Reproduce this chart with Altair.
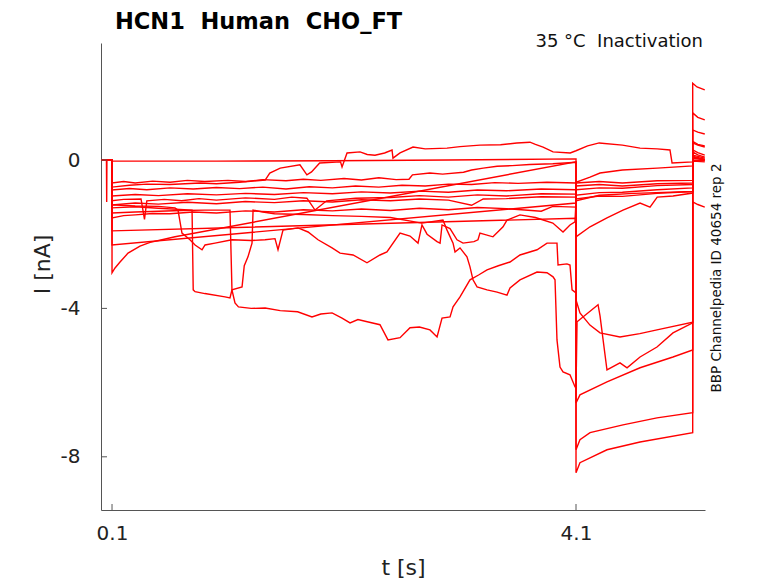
import altair as alt
import pandas as pd

# ---- data: (t [s], I [nA]) keypoints, one list per sweep ----
HOLD = [(0.005, 0.0), (0.1, 0.0)]

flat = [(0.052, 0.0), (0.054, -1.13), (0.056, 0.0), (0.1, 0.0), (0.1, -0.03), (1.0, -0.03), (2.0, -0.02),
        (3.0, 0.0), (4.1, 0.03), (4.1, -8.43), (4.134, -8.16), (4.367, -7.81), (4.652, -7.6),
        (5.106, -7.35), (5.106, 2.07), (5.143, 1.97), (5.21, 1.89)]

lin3 = [(0.1, -3.04), (0.126, -2.91), (0.169, -2.75), (0.238, -2.51), (0.341, -2.32), (0.428, -2.22),
        (0.531, -2.15), (0.643, -2.07), (4.1, -0.05), (4.1, -7.81), (4.134, -7.54), (4.221, -7.35),
        (4.505, -7.14), (4.798, -6.95), (5.106, -6.81), (5.106, 1.27), (5.15, 1.15), (5.21, 1.08)]

band1 = [(0.1, -0.62), (0.2, -0.58), (0.3, -0.62), (0.45, -0.57), (0.6, -0.6), (0.75, -0.55), (0.9, -0.58),
         (1.1, -0.55), (1.25, -0.58), (1.4, -0.53), (1.6, -0.56), (1.75, -0.52), (1.9, -0.55), (2.1, -0.5),
         (2.25, -0.54), (2.4, -0.48), (2.55, -0.53), (2.66, -0.52), (2.69, -0.40), (2.84, -0.35),
         (2.95, -0.38), (3.13, -0.33), (3.2, -0.27), (3.3, -0.22), (3.42, -0.17), (3.55, -0.15),
         (3.7, -0.12), (3.9, -0.1), (4.1, -0.06), (4.1, -6.55), (4.134, -6.33),
         (4.367, -5.98), (4.652, -5.6), (4.936, -5.31), (5.106, -5.12), (5.106, 0.81), (5.15, 0.75),
         (5.21, 0.7)]

top = [(0.1, -0.73), (0.25, -0.68), (0.4, -0.65), (0.6, -0.66), (0.86, -0.62), (1.0, -0.64), (1.2, -0.6),
       (1.42, -0.54), (1.46, -0.35), (1.55, -0.22), (1.72, -0.13), (1.78, -0.40), (1.82, -0.32),
       (1.89, -0.08), (2.07, -0.05), (2.083, -0.19), (2.126, 0.19), (2.238, 0.22), (2.3, 0.15),
       (2.367, 0.13), (2.45, 0.19), (2.514, 0.27), (2.522, 0.05), (2.583, 0.19), (2.695, 0.35),
       (2.8, 0.3), (2.988, 0.32), (3.1, 0.36), (3.272, 0.40), (3.45, 0.41), (3.59, 0.46), (3.703, 0.48),
       (3.75, 0.42), (3.816, 0.35), (3.902, 0.22), (4.05, 0.19), (4.1, 0.25), (4.2, 0.38), (4.3, 0.46),
       (4.5, 0.40), (4.652, 0.32), (4.8, 0.3), (4.91, 0.27), (4.928, -0.08), (5.106, -0.05),
       (5.106, 0.27), (5.15, 0.2), (5.21, 0.13)]

drop_p = [(0.1, -1.43), (0.3, -1.4), (0.5, -1.38), (0.7, -1.36), (0.9, -1.35), (1.117, -1.35), (1.134, -3.5),
          (1.16, -3.85), (1.19, -3.96), (1.3, -4.0), (1.42, -3.99), (1.55, -4.06), (1.70, -4.09),
          (1.824, -4.23), (1.9, -4.15), (1.997, -4.12), (2.083, -4.26), (2.152, -4.39), (2.22, -4.3),
          (2.3, -4.36), (2.41, -4.44), (2.479, -4.85), (2.583, -4.79), (2.669, -4.52), (2.75, -4.5),
          (2.841, -4.58), (2.902, -4.77), (2.945, -4.26), (3.014, -4.23), (3.04, -3.96), (3.1, -3.69),
          (3.186, -3.23), (3.26, -3.1), (3.333, -2.96), (3.43, -2.85), (3.531, -2.75), (3.617, -2.56),
          (3.764, -2.42), (3.85, -2.24), (3.936, -2.24), (3.945, -2.83), (4.022, -2.80), (4.048, -2.83),
          (4.066, -3.5), (4.1, -3.58), (4.1, -3.77), (4.134, -4.12), (4.22, -4.45), (4.307, -4.66),
          (4.479, -4.77), (4.65, -4.68), (4.798, -4.58), (5.106, -4.37),
          (5.106, -1.13), (5.15, -1.2), (5.21, -1.27)]

drop_q = [(0.1, -1.29), (0.3, -1.26), (0.5, -1.3), (0.79, -1.35), (0.80, -3.5), (0.816, -3.55), (0.9, -3.6),
          (1.074, -3.69), (1.117, -3.72), (1.134, -3.5), (1.221, -3.42), (1.24, -2.85), (1.272, -2.61),
          (1.307, -2.24), (1.316, -1.35), (1.4, -1.4), (1.5, -1.45), (1.75, -1.47), (2.0, -1.5),
          (2.25, -1.52), (2.5, -1.55), (2.77, -1.7), (2.953, -1.62), (2.988, -1.89), (3.04, -2.24),
          (3.057, -2.48), (3.1, -2.37), (3.16, -2.61), (3.186, -2.88), (3.212, -3.23), (3.247, -3.42),
          (3.333, -3.5), (3.42, -3.56), (3.505, -3.64), (3.531, -3.45), (3.617, -3.23), (3.764, -3.02),
          (3.85, -3.04), (3.902, -3.15), (3.919, -3.23), (3.936, -4.85), (3.962, -5.58), (3.988, -5.71),
          (4.048, -5.79), (4.091, -6.11), (4.1, -6.15), (4.109, -4.36), (4.29, -3.9), (4.307, -4.2),
          (4.367, -5.66), (4.479, -5.47), (4.54, -5.6), (4.652, -5.31), (4.798, -5.04), (4.936, -4.66),
          (5.106, -4.39), (5.106, 0.46), (5.15, 0.4), (5.21, 0.35)]

drop_r = [(0.1, -1.21), (0.3, -1.24), (0.5, -1.25), (0.643, -1.29), (0.669, -1.35), (0.703, -1.97),
          (0.772, -2.15), (0.816, -2.29), (0.876, -2.42), (0.902, -2.29), (0.988, -2.24), (1.134, -2.15),
          (1.3, -2.17), (1.419, -2.15), (1.505, -2.12), (1.531, -2.42), (1.574, -1.89), (1.703, -1.83),
          (1.79, -1.94), (1.876, -2.15), (1.997, -2.37), (2.066, -2.51), (2.178, -2.56), (2.298, -2.77),
          (2.41, -2.56), (2.47, -2.48), (2.583, -1.97), (2.669, -2.05), (2.738, -2.24), (2.772, -1.75),
          (2.816, -2.0), (2.902, -2.2), (2.928, -2.24), (2.945, -1.75), (3.014, -1.85), (3.074, -2.15),
          (3.126, -2.24), (3.22, -2.2), (3.255, -2.15), (3.272, -1.97), (3.384, -2.07), (3.471, -1.8),
          (3.505, -1.62), (3.617, -1.48), (3.75, -1.55), (3.9, -1.70), (3.988, -1.94), (4.048, -1.75),
          (4.091, -1.67), (4.1, -1.1), (4.3, -0.95), (4.6, -0.9), (5.106, -0.85), (5.106, 0.22),
          (5.15, 0.14), (5.21, 0.08)]

lin1 = [(0.1, -1.91), (4.1, -1.57), (4.1, -2.07), (4.221, -1.8), (4.367, -1.56), (4.505, -1.35),
        (4.652, -1.16), (4.738, -1.27), (4.8, -1.0), (4.936, -0.97), (5.106, -0.89), (5.106, 0.08),
        (5.21, 0.0)]

lin2 = [(0.1, -2.29), (4.1, -1.16), (4.1, -0.6), (4.221, -0.46), (4.307, -0.35), (4.5, -0.27),
        (4.8, -0.22), (5.106, -0.16), (5.106, 0.5), (5.15, 0.42), (5.21, 0.38)]

band2 = [(0.1, -0.81), (0.25, -0.77), (0.4, -0.8), (0.6, -0.75), (0.8, -0.78), (1.0, -0.74), (1.2, -0.77),
         (1.4, -0.73), (1.6, -0.78), (1.8, -0.72), (2.0, -0.75), (2.2, -0.7), (2.4, -0.73), (2.6, -0.68),
         (2.8, -0.7), (3.0, -0.65), (3.2, -0.66), (3.4, -0.61), (3.6, -0.63), (3.85, -0.6), (4.1, -0.62),
         (4.1, -0.62), (4.3, -0.58), (4.5, -0.62), (4.8, -0.56), (5.106, -0.55), (5.106, 0.05), (5.21, 0.0)]

band3 = [(0.1, -0.97), (0.3, -0.93), (0.5, -0.96), (0.75, -0.91), (1.0, -0.94), (1.25, -0.9), (1.5, -0.93),
         (1.75, -0.88), (2.0, -0.91), (2.25, -0.86), (2.5, -0.89), (2.75, -0.84), (3.0, -0.87), (3.25, -0.81),
         (3.5, -0.83), (3.8, -0.78), (4.1, -0.8), (4.1, -0.8), (4.3, -0.75), (4.5, -0.76), (4.8, -0.69),
         (5.106, -0.66), (5.106, 0.0), (5.21, -0.02)]

band4 = [(0.1, -1.1), (0.2, -1.06), (0.35, -1.05), (0.38, -1.6), (0.4, -1.1), (0.55, -1.06), (0.7, -1.1),
         (0.85, -1.04), (1.0, -1.08), (1.25, -1.02), (1.5, -1.06), (1.65, -1.0), (1.78, -1.03),
         (1.85, -1.35), (1.95, -1.1), (2.2, -1.03), (2.5, -1.01), (2.75, -0.96), (3.0, -1.0), (3.25, -0.94),
         (3.5, -0.97), (3.8, -0.91), (4.1, -0.92), (4.1, -0.95), (4.3, -0.88), (4.5, -0.87), (4.8, -0.8),
         (5.106, -0.75), (5.106, -0.03), (5.21, -0.05)]

band5 = [(0.1, -1.21), (0.3, -1.16), (0.5, -1.19), (0.75, -1.14), (1.0, -1.18), (1.25, -1.12), (1.5, -1.15),
         (1.75, -1.1), (2.0, -1.13), (2.25, -1.07), (2.5, -1.1), (2.75, -1.05), (3.0, -1.08), (3.2, -1.22),
         (3.3, -1.05), (3.5, -1.04), (3.8, -0.99), (4.1, -1.0), (4.1, -1.05), (4.3, -0.97), (4.5, -0.98),
         (4.8, -0.9), (5.106, -0.85), (5.106, 0.1), (5.21, 0.02)]

band6 = [(0.1, -1.56), (0.2, -1.5), (0.3, -1.48), (0.45, -1.44), (0.6, -1.45), (0.8, -1.4), (1.0, -1.43),
         (1.25, -1.37), (1.5, -1.4), (1.75, -1.34), (2.0, -1.37), (2.25, -1.32), (2.5, -1.36), (2.75, -1.3),
         (3.0, -1.34), (3.25, -1.28), (3.5, -1.31), (3.8, -1.38), (3.9, -1.25), (4.1, -1.27), (4.1, -0.7),
         (4.3, -0.66), (4.5, -0.7), (4.8, -0.64), (5.106, -0.62), (5.106, 0.13), (5.21, 0.05)]

sweeps = {"flat": flat, "lin3": lin3, "band1": band1, "top": top, "drop_p": drop_p, "drop_q": drop_q,
          "drop_r": drop_r, "lin1": lin1, "lin2": lin2, "band2": band2, "band3": band3, "band4": band4,
          "band5": band5, "band6": band6}

x_ticks = [0.1, 4.1]
y_ticks = [0, -4, -8]
NB = "\u00a0"
title_text = "HCN1" + NB + NB + "Human" + NB + NB + "CHO_FT"
subtitle_text = "35 °C" + NB + NB + "Inactivation"
side_text = "BBP Channelpedia ID 40654 rep 2"

rows = []
for name, pts in sweeps.items():
    seq = HOLD + pts
    for k, (t, i) in enumerate(seq):
        rows.append({"t": t, "I": i, "sweep": name, "k": k})
df = pd.DataFrame(rows)

W, H = 604, 467
FONT = "DejaVu Sans"
xs = alt.Scale(domain=[0.005, 5.212], nice=False, zero=False)
ys = alt.Scale(domain=[-9.434, 3.154], nice=False, zero=False)

lines = alt.Chart(df).mark_line(color="#ff0000", strokeWidth=1.4, clip=True).encode(
    x=alt.X("t:Q", scale=xs,
            axis=alt.Axis(values=x_ticks, labelExpr="toString(datum.value)", title="t [s]", ticks=False,
                          grid=False, labelPadding=13, titleX=W / 2, titleY=57, titleBaseline="middle")),
    y=alt.Y("I:Q", scale=ys,
            axis=alt.Axis(values=y_ticks, labelExpr="toString(datum.value)", title="I [nA]", ticks=False,
                          grid=False, labelPadding=21, titleX=-59, titleY=221, titleBaseline="middle")),
    detail="sweep:N",
    order="k:Q",
)

ytick_df = pd.DataFrame({"v": y_ticks})
xtick_df = pd.DataFrame({"v": x_ticks})
ytk = alt.Chart(ytick_df).mark_rule(color="#555555", strokeWidth=1).encode(
    y=alt.Y("v:Q", scale=ys), x=alt.value(0), x2=alt.value(6))
xtk = alt.Chart(xtick_df).mark_rule(color="#555555", strokeWidth=1).encode(
    x=alt.X("v:Q", scale=xs), y=alt.value(H), y2=alt.value(H - 6))

one = pd.DataFrame({"a": [0]})
title = alt.Chart(one).mark_text(text=title_text, font=FONT, fontSize=22.5, fontWeight="bold",
                                 align="left", baseline="alphabetic", color="#000000").encode(
    x=alt.value(14), y=alt.value(-14))
sub = alt.Chart(one).mark_text(text=subtitle_text, font=FONT, fontSize=18, align="right",
                               baseline="alphabetic", color="#111111").encode(
    x=alt.value(602), y=alt.value(4))
side = alt.Chart(one).mark_text(text=side_text, font=FONT, fontSize=13.5, align="center", angle=270,
                                baseline="middle", color="#111111").encode(
    x=alt.value(616), y=alt.value(235))

chart = alt.layer(lines, ytk, xtk, title, sub, side).properties(
    width=W, height=H,
    autosize=alt.AutoSizeParams(type="none"),
    padding={"left": 93, "top": 35, "right": 65, "bottom": 70},
).configure_view(stroke=None).configure_axis(
    domainColor="#555555", labelFont=FONT, titleFont=FONT, labelFontSize=20, titleFontSize=22,
    labelColor="#222222", titleColor="#222222", titleFontWeight="normal",
)

chart.save("out.html", embed_options={"renderer": "svg", "actions": False})
